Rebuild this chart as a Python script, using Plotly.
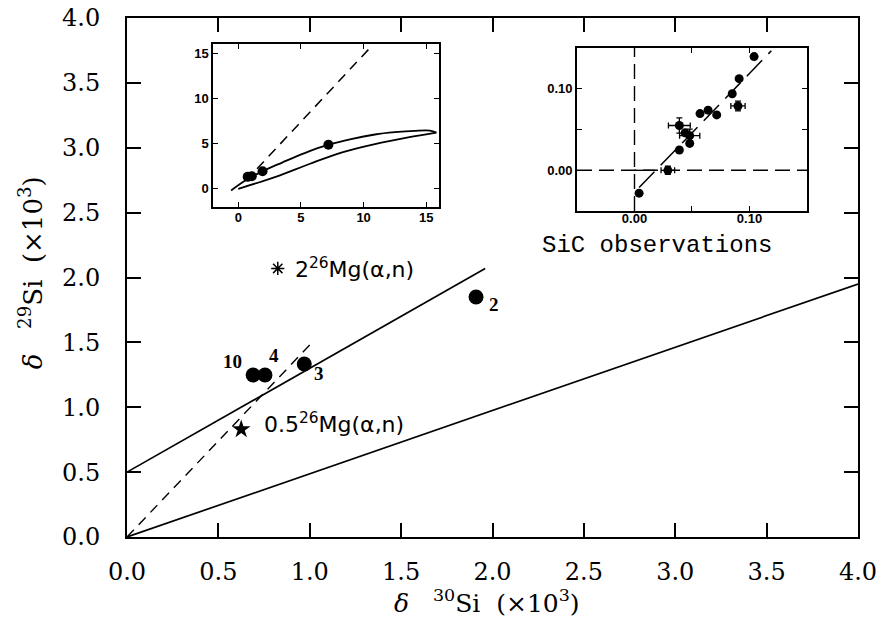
import plotly.graph_objects as go

# ---------------- main panel data ----------------
model_labels = ["10", "4", "3", "2"]
model_x = [0.69, 0.755, 0.97, 1.91]
model_y = [1.249, 1.249, 1.333, 1.85]

star_x = [0.625]         # 0.5 x 26Mg(a,n)
star_y = [0.83]
ast_x = [0.825]          # 2 x 26Mg(a,n)
ast_y = [2.07]

upper_line_x = [0.0, 1.96]
upper_line_y = [0.50, 2.07]
lower_line_x = [0.0, 4.0]
lower_line_y = [0.0, 1.95]
dash_line_x = [0.0, 1.0]
dash_line_y = [0.0, 1.48]

# ---------------- inset 1 data ----------------
in1_upper_x = [-0.57, 0.5, 1.95, 3.5, 5.3, 7.2, 9.0, 10.9, 12.5, 14.1, 15.3, 15.8]
in1_upper_y = [-0.19, 0.85, 1.95, 2.9, 3.95, 4.87, 5.5, 6.0, 6.25, 6.4, 6.42, 6.2]
in1_lower_x = [0.0, 3.04, 5.67, 8.29, 10.9, 13.55, 15.8]
in1_lower_y = [0.0, 1.35, 2.74, 4.03, 4.94, 5.67, 6.2]
in1_dash_x = [1.5, 10.6]
in1_dash_y = [2.22, 15.7]
in1_pts_x = [0.75, 1.08, 1.94, 7.19]
in1_pts_y = [1.32, 1.38, 1.94, 4.87]

# ---------------- inset 2 data (SiC observations) ----------------
sic_x = [0.004, 0.029, 0.039, 0.039, 0.044, 0.048, 0.048, 0.057, 0.064, 0.0715, 0.085, 0.090, 0.091, 0.104]
sic_y = [-0.028, 0.000, 0.025, 0.055, 0.046, 0.0425, 0.033, 0.0696, 0.0738, 0.068, 0.094, 0.079, 0.1125, 0.1396]
sic_xerr = [0, 0.0059, 0, 0.0095, 0, 0.0088, 0, 0, 0, 0, 0, 0.0062, 0, 0]
sic_yerr = [0, 0.005, 0, 0.0094, 0, 0.008, 0, 0, 0, 0, 0, 0.006, 0, 0]
fit_x = [0.004, 0.119]
fit_y = [-0.0212, 0.1467]
base_x = [0.0, 0.018]
base_y = [0.0, 0.0]

main_ticks = [0, 0.5, 1.0, 1.5, 2.0, 2.5, 3.0, 3.5, 4.0]
main_ticktext = ["0.0", "0.5", "1.0", "1.5", "2.0", "2.5", "3.0", "3.5", "4.0"]

serif = "DejaVu Serif"
sans = "DejaVu Sans"

fig = go.Figure()

# main panel
fig.add_trace(go.Scatter(x=upper_line_x, y=upper_line_y, mode="lines",
                         line=dict(color="black", width=1.7), showlegend=False))
fig.add_trace(go.Scatter(x=lower_line_x, y=lower_line_y, mode="lines",
                         line=dict(color="black", width=1.7), showlegend=False))
fig.add_trace(go.Scatter(x=dash_line_x, y=dash_line_y, mode="lines",
                         line=dict(color="black", width=1.4, dash="10px,7px"), showlegend=False))
fig.add_trace(go.Scatter(x=model_x, y=model_y, mode="markers",
                         marker=dict(color="black", size=15, symbol="circle"), showlegend=False))
fig.add_trace(go.Scatter(x=star_x, y=star_y, mode="markers",
                         marker=dict(color="black", size=14, symbol="star"), showlegend=False))
fig.add_trace(go.Scatter(x=ast_x, y=ast_y, mode="markers",
                         marker=dict(color="black", size=11, symbol="asterisk-open",
                                     line=dict(color="black", width=1.5)), showlegend=False))

# inset 1
fig.add_trace(go.Scatter(x=in1_upper_x, y=in1_upper_y, mode="lines", line_shape="spline",
                         line=dict(color="black", width=1.8), xaxis="x2", yaxis="y2", showlegend=False))
fig.add_trace(go.Scatter(x=in1_lower_x, y=in1_lower_y, mode="lines", line_shape="spline",
                         line=dict(color="black", width=1.8), xaxis="x2", yaxis="y2", showlegend=False))
fig.add_trace(go.Scatter(x=in1_dash_x, y=in1_dash_y, mode="lines",
                         line=dict(color="black", width=1.5, dash="10px,7px"),
                         xaxis="x2", yaxis="y2", showlegend=False))
fig.add_trace(go.Scatter(x=in1_pts_x, y=in1_pts_y, mode="markers",
                         marker=dict(color="black", size=10), xaxis="x2", yaxis="y2", showlegend=False))

# inset 2
fig.add_trace(go.Scatter(x=[0, 0], y=[-0.05, 0.15], mode="lines",
                         line=dict(color="black", width=1.4, dash="15px,7px"),
                         xaxis="x3", yaxis="y3", showlegend=False))
fig.add_trace(go.Scatter(x=[-0.05, 0.15], y=[0, 0], mode="lines",
                         line=dict(color="black", width=1.4, dash="15px,7px"),
                         xaxis="x3", yaxis="y3", showlegend=False))
fig.add_trace(go.Scatter(x=base_x, y=base_y, mode="lines",
                         line=dict(color="black", width=1.4),
                         xaxis="x3", yaxis="y3", showlegend=False))
fig.add_trace(go.Scatter(x=fit_x, y=fit_y, mode="lines",
                         line=dict(color="black", width=1.5, dash="22px,9px"),
                         xaxis="x3", yaxis="y3", showlegend=False))
fig.add_trace(go.Scatter(x=sic_x, y=sic_y, mode="markers",
                         marker=dict(color="black", size=9, symbol="circle"),
                         error_x=dict(type="data", array=sic_xerr, color="black", thickness=1.3, width=3),
                         error_y=dict(type="data", array=sic_yerr, color="black", thickness=1.3, width=3),
                         xaxis="x3", yaxis="y3", showlegend=False))

main_axis = dict(range=[0, 4], tickvals=main_ticks, ticktext=main_ticktext, ticks="inside",
                 ticklen=14, tickwidth=1.5, tickcolor="black", showline=True, linewidth=2,
                 linecolor="black", mirror="ticks", showgrid=False, zeroline=False,
                 automargin=False,
                 tickfont=dict(family=serif, size=24, color="black"))

inset_common = dict(ticks="inside", ticklen=5, tickwidth=1.3, tickcolor="black", showline=True,
                    linewidth=1.6, linecolor="black", mirror="ticks", showgrid=False, zeroline=False,
                    automargin=False,
                    tickfont=dict(family="Liberation Sans", size=13, color="black", weight="bold"))
sic_minor = dict(ticks="inside", ticklen=5, tickwidth=1.3, tickcolor="black", dtick=0.05, tick0=0,
                 showgrid=False)

fig.update_layout(
    width=877, height=620,
    margin=dict(l=127, r=19, t=18, b=83, autoexpand=False),
    paper_bgcolor="white", plot_bgcolor="white",
    xaxis=dict(**main_axis, ticklabelstandoff=12, ticklabeloverflow="allow"),
    yaxis=dict(**main_axis, ticklabelstandoff=20),
    xaxis2=dict(**inset_common, domain=[0.1179, 0.4266], range=[-2, 16], tickvals=[0, 5, 10, 15],
                anchor="y2", ticklabelstandoff=-2),
    yaxis2=dict(**inset_common, domain=[0.636, 0.95], range=[-2, 16], tickvals=[0, 5, 10, 15],
                anchor="x2"),
    xaxis3=dict(**inset_common, domain=[0.6156, 0.9302], range=[-0.05, 0.15],
                tickvals=[0, 0.10], ticktext=["0.00", "0.10"], anchor="y3",
                ticklabelstandoff=-5, minor=sic_minor),
    yaxis3=dict(**inset_common, domain=[0.628, 0.942], range=[-0.05, 0.15],
                tickvals=[0, 0.10], ticktext=["0.00", "0.10"], anchor="x3", minor=sic_minor),
)

ann = []
# model labels
lab_pos = [(0.58, 1.35), (0.805, 1.40), (1.05, 1.26), (2.01, 1.79)]
for t, (lx, ly) in zip(model_labels, lab_pos):
    ann.append(dict(x=lx, y=ly, xref="x", yref="y", text=t, showarrow=False,
                    font=dict(family="Liberation Serif", size=19, color="black", weight="bold")))
ann.append(dict(x=0.908, y=2.07, xref="x", yref="y", xanchor="left", yanchor="middle",
                text="2<sup>26</sup>Mg(α,n)", showarrow=False,
                font=dict(family=sans, size=22, color="black")))
ann.append(dict(x=0.74, y=0.88, xref="x", yref="y", xanchor="left", yanchor="middle",
                text="0.5<sup>26</sup>Mg(α,n)", showarrow=False,
                font=dict(family=sans, size=22, color="black")))
ann.append(dict(x=2.26, y=2.245, xref="x", yref="y", xanchor="left", yanchor="middle",
                text="SiC observations", showarrow=False,
                font=dict(family="Liberation Mono", size=24, color="black")))
ann.append(dict(x=0.493, y=-0.124, xref="paper", yref="paper", xanchor="center", yanchor="middle",
                text="<i>δ</i>   <sup>30</sup>Si  (×10<sup>3</sup>)", showarrow=False,
                font=dict(family=serif, size=25, color="black")))
ann.append(dict(x=-0.132, y=0.509, xref="paper", yref="paper", xanchor="center", yanchor="middle",
                text="<i>δ</i>   <sup>29</sup>Si  (×10<sup>3</sup>)", showarrow=False, textangle=-90,
                font=dict(family=serif, size=26, color="black")))
fig.update_layout(annotations=ann)

fig.write_html("out.html", config={"displayModeBar": False},
               post_script="document.body.style.margin='0px';")
